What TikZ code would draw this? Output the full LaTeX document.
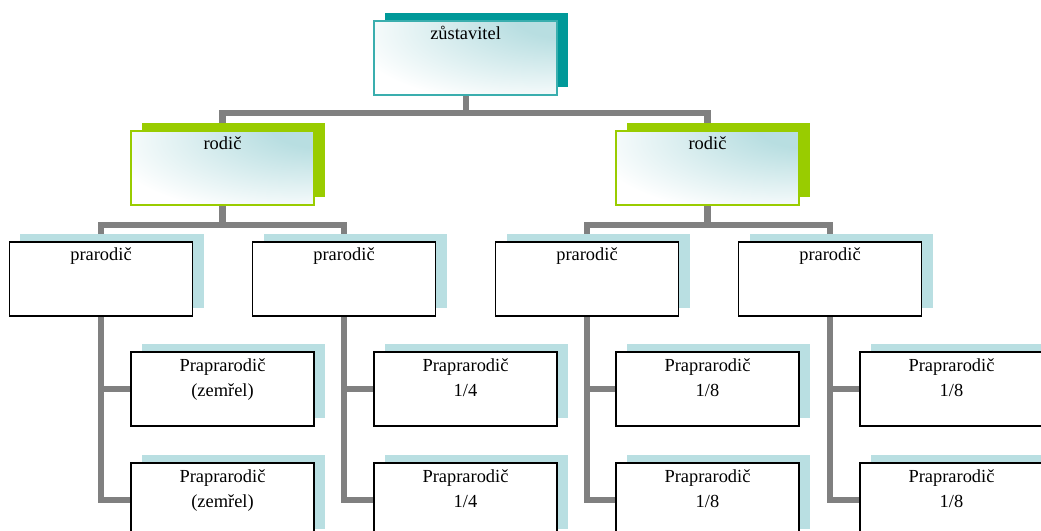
\documentclass[tikz,border=0pt]{standalone}
\usepackage{fontspec}
\setmainfont{Liberation Serif}
\usepackage{tikz}
\usetikzlibrary{backgrounds,shadows,calc}

\definecolor{tealdark}{HTML}{009999}
\definecolor{tealline}{HTML}{3AAEAE}
\definecolor{limegreen}{HTML}{99CC00}
\definecolor{paleblue}{HTML}{B9DFE2}
\definecolor{glowblue}{HTML}{B8DEE1}
\definecolor{linkgray}{HTML}{808080}

\pgfdeclareradialshading{glow}{\pgfpoint{32bp}{32bp}}{color(0bp)=(glowblue); color(14bp)=(glowblue); color(48bp)=(white); color(100bp)=(white)}

\newcommand{\boxtext}[2][0.45cm]{\parbox[t][1.85cm][t]{4.575cm}{\centering\rule{0pt}{#1}#2}}

\tikzset{
	member/.style={rectangle, inner sep=0pt, minimum width=4.575cm, minimum height=1.85cm,
		font=\fontsize{13.1}{17.8}\selectfont},
	rootbox/.style={member, draw=tealline, line width=0.9pt, shade, shading=glow,
		general shadow={shadow xshift=0.275cm, shadow yshift=0.2cm, fill=tealdark}},
	parentbox/.style={member, draw=limegreen, line width=0.9pt, shade, shading=glow,
		general shadow={shadow xshift=0.275cm, shadow yshift=0.2cm, fill=limegreen}},
	grandbox/.style={member, draw=black, line width=1.2pt, fill=white,
		general shadow={shadow xshift=0.275cm, shadow yshift=0.2cm, fill=paleblue}},
	link/.style={draw=linkgray, line width=4.3pt}
}

\begin{document}
\begin{tikzpicture}
	\useasboundingbox (0,0) rectangle (26.025,13.275);

	\node[rootbox] (Z) at (11.64,11.825) {\boxtext[0.46cm]{zůstavitel}};
	\node[parentbox] (R1) at (5.5625,9.075) {\boxtext[0.47cm]{rodič}};
	\node[parentbox] (R2) at (17.6875,9.075) {\boxtext[0.47cm]{rodič}};

	\node[grandbox] (P1) at (2.525,6.3) {\boxtext[0.47cm]{prarodič}};
	\node[grandbox] (P2) at (8.6,6.3) {\boxtext[0.47cm]{prarodič}};
	\node[grandbox] (P3) at (14.675,6.3) {\boxtext[0.47cm]{prarodič}};
	\node[grandbox] (P4) at (20.75,6.3) {\boxtext[0.47cm]{prarodič}};

	\node[grandbox] (Q1) at (5.5625,3.55) {\boxtext[0.49cm]{Praprarodič\\(zemřel)}};
	\node[grandbox] (Q2) at (5.5625,0.775) {\boxtext[0.49cm]{Praprarodič\\(zemřel)}};
	\node[grandbox] (Q3) at (11.6375,3.55) {\boxtext[0.49cm]{Praprarodič\\1/4}};
	\node[grandbox] (Q4) at (11.6375,0.775) {\boxtext[0.49cm]{Praprarodič\\1/4}};
	\node[grandbox] (Q5) at (17.6875,3.55) {\boxtext[0.49cm]{Praprarodič\\1/8}};
	\node[grandbox] (Q6) at (17.6875,0.775) {\boxtext[0.49cm]{Praprarodič\\1/8}};
	\node[grandbox] (Q7) at (23.7875,3.55) {\boxtext[0.49cm]{Praprarodič\\1/8}};
	\node[grandbox] (Q8) at (23.7875,0.775) {\boxtext[0.49cm]{Praprarodič\\1/8}};

	\begin{scope}[on background layer]
	\path[link] (Z.south) -- ++(0,-0.44) -| (R1.north);
	\path[link] (Z.south) -- ++(0,-0.44) -| (R2.north);

	\path[link] (R1.south) -- ++(0,-0.475) -| (P1.north);
	\path[link] (R1.south) -- ++(0,-0.475) -| (P2.north);
	\path[link] (R2.south) -- ++(0,-0.475) -| (P3.north);
	\path[link] (R2.south) -- ++(0,-0.475) -| (P4.north);

	\path[link] (P1.south) |- (Q1.west);
	\path[link] (P1.south) |- (Q2.west);
	\path[link] (P2.south) |- (Q3.west);
	\path[link] (P2.south) |- (Q4.west);
	\path[link] (P3.south) |- (Q5.west);
	\path[link] (P3.south) |- (Q6.west);
	\path[link] (P4.south) |- (Q7.west);
	\path[link] (P4.south) |- (Q8.west);
	\end{scope}

\end{tikzpicture}
\end{document}
